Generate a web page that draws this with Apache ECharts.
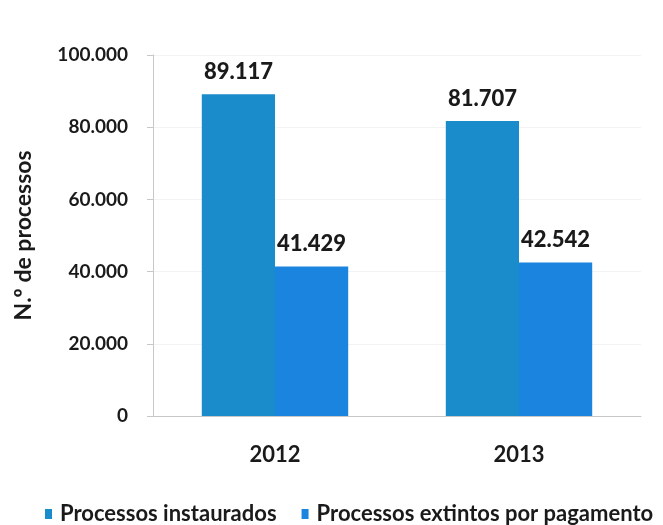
<!DOCTYPE html>
<html>
<head>
<meta charset="utf-8">
<script src="https://cdn.jsdelivr.net/npm/echarts@6/dist/echarts.min.js"></script>
<style>
  html, body { margin: 0; padding: 0; background: #fff; }
  #chart { width: 663px; height: 525px; }
</style>
</head>
<body>
<div id="chart"></div>
<script>
// Process counts per year
const years = ['2012', '2013'];
const instaurados = [89117, 81707];
const extintos = [41429, 42542];
const seriesNames = ['Processos instaurados', 'Processos extintos por pagamento'];
const yTicks = { min: 0, max: 100000, interval: 20000 };

const FONT = 'Lato, "DejaVu Sans", sans-serif';
const INK = '#1a1a1a';
const fmt = v => v === 0 ? '0' : String(v).replace(/\B(?=(\d{3})+(?!\d))/g, '.');

const chart = echarts.init(document.getElementById('chart'));
chart.setOption({
  animation: false,
  backgroundColor: '#ffffff',
  grid: { left: 153, right: 22, top: 55, bottom: 109 },
  legend: {
    top: 503,
    left: 45,
    width: 660,
    padding: 0,
    itemWidth: 7,
    itemHeight: 10,
    itemGap: 25,
    icon: 'rect',
    textStyle: { fontFamily: FONT, fontSize: 22, color: INK, fontWeight: 'bold', padding: [0, 0, 0, 3] },
    data: seriesNames
  },
  xAxis: {
    type: 'category',
    data: years,
    axisLine: { show: true, lineStyle: { color: '#c8c8c8', width: 1 } },
    axisTick: { show: false },
    axisLabel: { fontFamily: FONT, fontSize: 22, fontWeight: 'bold', color: INK, margin: 28 }
  },
  yAxis: {
    type: 'value',
    min: yTicks.min,
    max: yTicks.max,
    interval: yTicks.interval,
    name: 'N.º de processos',
    nameLocation: 'middle',
    nameGap: 118,
    nameTextStyle: { fontFamily: FONT, fontSize: 23, fontWeight: 'bold', color: INK },
    axisLine: { show: true, lineStyle: { color: '#c8c8c8', width: 1 } },
    axisTick: { show: true, length: 6, lineStyle: { color: '#c8c8c8' } },
    splitLine: { show: true, lineStyle: { color: '#f3f3f3', width: 1 } },
    axisLabel: { fontFamily: FONT, fontSize: 19, fontWeight: 'bold', color: INK, margin: 25, formatter: fmt }
  },
  series: [
    {
      name: seriesNames[0],
      type: 'bar',
      data: instaurados,
      barGap: '0%',
      barCategoryGap: '40%',
      itemStyle: { color: '#1a8bcb' },
      label: {
        show: true, position: 'top', distance: 11,
        fontFamily: FONT, fontSize: 22, fontWeight: 900, color: INK,
        formatter: p => fmt(p.value)
      }
    },
    {
      name: seriesNames[1],
      type: 'bar',
      data: extintos,
      itemStyle: { color: '#1a84de' },
      label: {
        show: true, position: 'top', distance: 12,
        fontFamily: FONT, fontSize: 22, fontWeight: 900, color: INK,
        formatter: p => fmt(p.value)
      }
    }
  ]
});
</script>
</body>
</html>
